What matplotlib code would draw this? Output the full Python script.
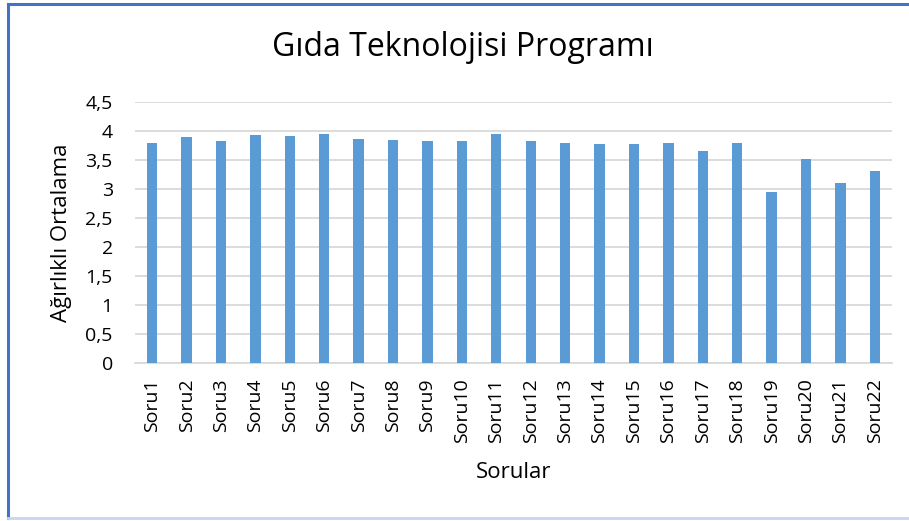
import matplotlib
matplotlib.use("Agg")
import matplotlib.pyplot as plt
from matplotlib.lines import Line2D
import numpy as np

# values
questions = ["Soru%d" % i for i in range(1, 23)]
weighted_means = [3.79, 3.89, 3.83, 3.93, 3.92, 3.94, 3.87, 3.84, 3.82, 3.82, 3.95,
                  3.83, 3.79, 3.77, 3.78, 3.79, 3.66, 3.80, 2.95, 3.52, 3.10, 3.31]
y_ticks = [0, 0.5, 1, 1.5, 2, 2.5, 3, 3.5, 4, 4.5]
y_tick_labels = ["0", "0,5", "1", "1,5", "2", "2,5", "3", "3,5", "4", "4,5"]

plt.rcParams['font.family'] = ['Open Sans', 'DejaVu Sans']

fig = plt.figure(figsize=(9.09, 5.21), dpi=100)
ax = fig.add_axes([135 / 909, 1 - 363 / 521, (892 - 135) / 909, (363 - 102) / 521])

x = np.arange(len(questions))
ax.bar(x, weighted_means, width=0.3, color="#5B9BD5", zorder=3)

ax.set_xlim(-0.5, len(questions) - 0.5)
ax.set_ylim(0, 4.5)
ax.set_yticks(y_ticks)
ax.set_yticklabels(y_tick_labels, fontsize=14, color="#000000")
ax.set_xticks(x)
ax.set_xticklabels(questions, rotation=90, fontsize=14)
ax.tick_params(length=0)
ax.tick_params(axis='y', pad=16)
ax.tick_params(axis='x', pad=11)
ax.grid(axis='y', color="#D9D9D9", linewidth=1.3, zorder=0)
for side in ["top", "right", "left"]:
    ax.spines[side].set_visible(False)
ax.spines["bottom"].set_color("#D9D9D9")
ax.spines["bottom"].set_linewidth(1.3)

ax.set_ylabel("Ağırlıklı Ortalama", fontsize=16, va="center")
ax.yaxis.set_label_coords(-(135 - 62) / 757, 0.5)
ax.set_xlabel("Sorular", fontsize=16, va="center")
ax.xaxis.set_label_coords(0.5, -(472 - 363) / 261)

fig.text(463 / 909, 1 - 48 / 521, "Gıda Teknolojisi Programı", fontsize=23,
         ha="center", va="center")

# chart frame (left and top visible, bottom faint)
fig.add_artist(Line2D([8 / 909, 8 / 909], [1 - 4 / 521, 1 - 518 / 521],
                      color="#4472C4", linewidth=2.2, transform=fig.transFigure))
fig.add_artist(Line2D([8 / 909, 1], [1 - 4 / 521, 1 - 4 / 521],
                      color="#4472C4", linewidth=2.2, transform=fig.transFigure))
fig.add_artist(Line2D([8 / 909, 1], [1 - 518 / 521, 1 - 518 / 521],
                      color="#C5D6F0", linewidth=2.0, transform=fig.transFigure))

fig.savefig("out.png", dpi=100)
